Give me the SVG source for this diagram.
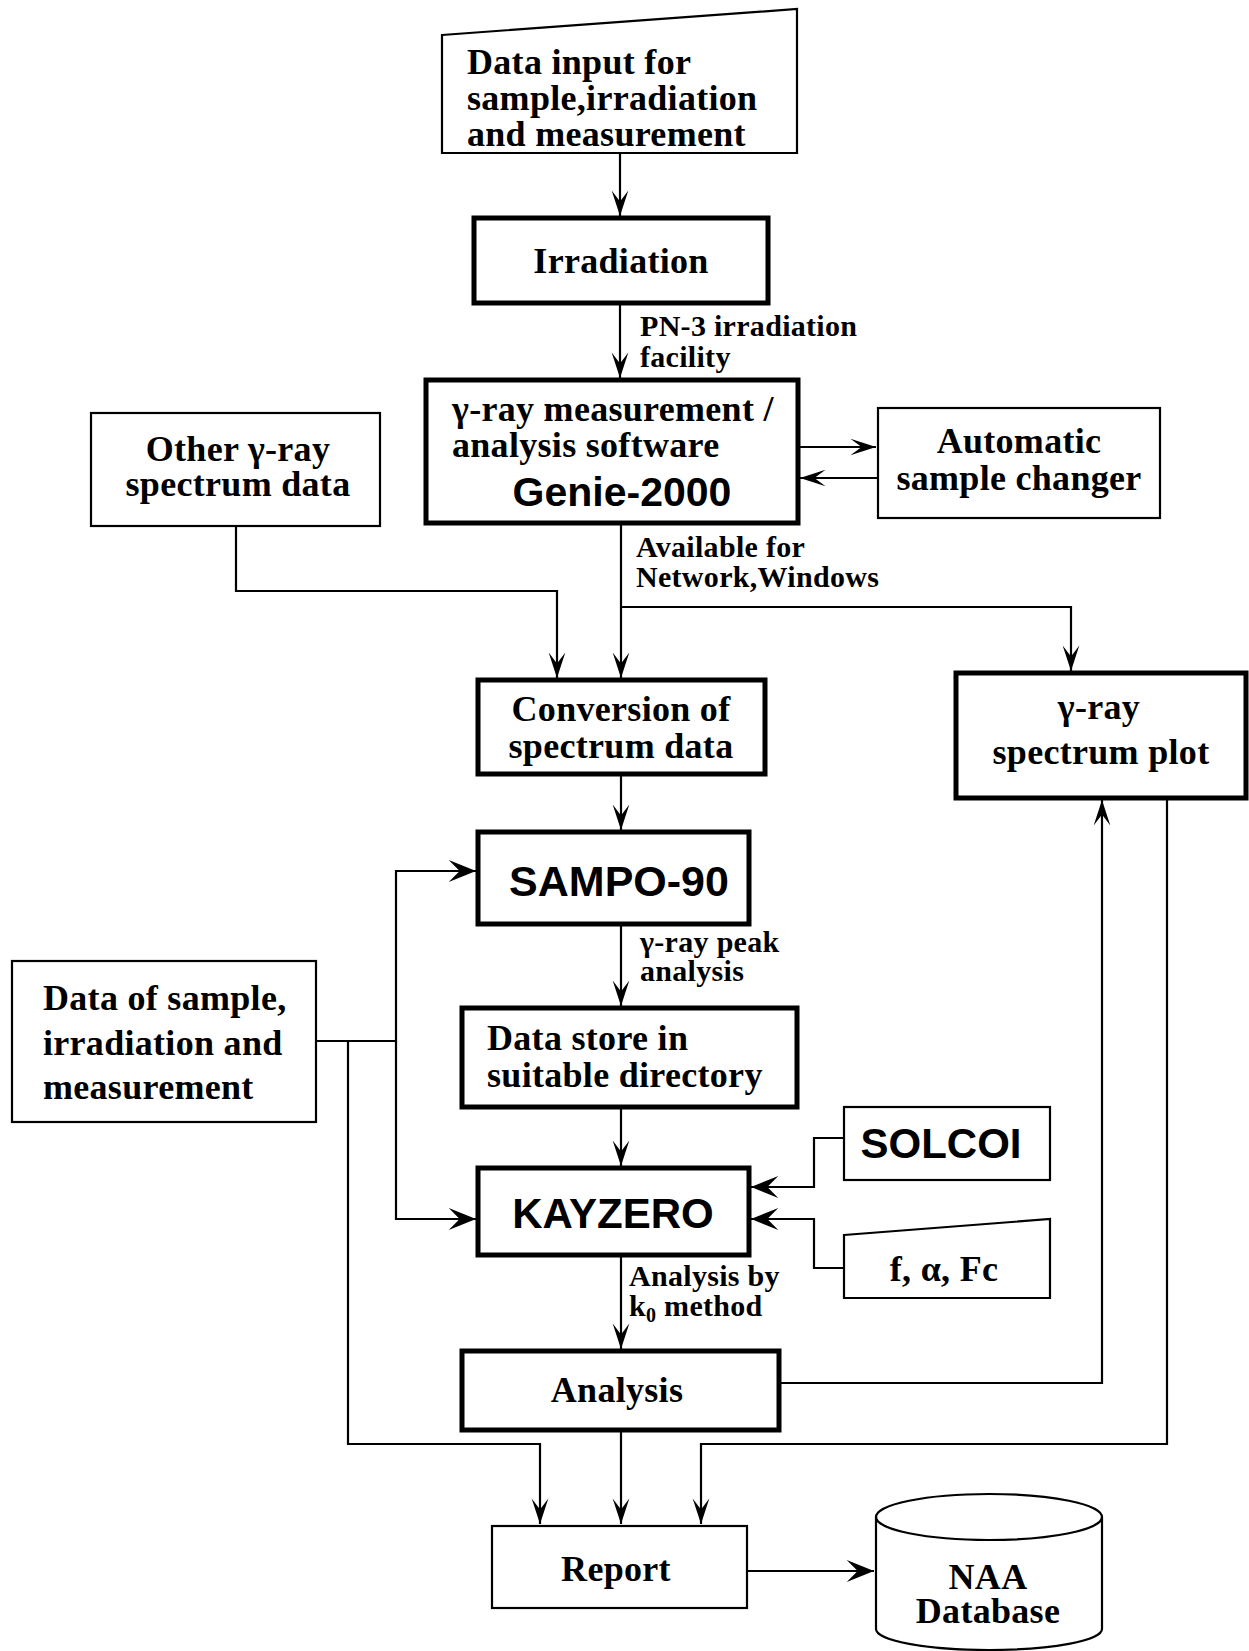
<svg xmlns="http://www.w3.org/2000/svg" width="1249" height="1651" viewBox="0 0 1249 1651">
<style>
.thin{fill:#fff;stroke:#000;stroke-width:2.2}
.thick{fill:#fff;stroke:#000;stroke-width:5}
.t{font-family:"Liberation Serif","Times New Roman",serif;font-weight:bold;font-size:36px;letter-spacing:0.3px;fill:#000}
.lbl{font-family:"Liberation Serif","Times New Roman",serif;font-weight:bold;font-size:30px;letter-spacing:0.3px;fill:#000}
.h{font-family:"Liberation Sans",Arial,sans-serif;font-weight:bold;font-size:42px;fill:#000}
.c{text-anchor:middle}
.cn{fill:none;stroke:#000;stroke-width:2.2}
</style>
<defs>
<marker id="ah" markerUnits="userSpaceOnUse" markerWidth="30" markerHeight="20" viewBox="-24 -9 26 18" refX="0" refY="0" orient="auto">
<path d="M0,0 L-23,-7.5 L-13,0 L-23,7.5 Z" fill="#000"/>
</marker>
<marker id="ahb" markerUnits="userSpaceOnUse" markerWidth="34" markerHeight="24" viewBox="-26 -11 28 22" refX="0" refY="0" orient="auto">
<path d="M0,0 L-25,-10 L-15,0 L-25,10 Z" fill="#000"/>
</marker>
</defs>

<g id="connectors">
<path class="cn" d="M620,153 V216" marker-end="url(#ah)"/>
<path class="cn" d="M620,303 V378" marker-end="url(#ah)"/>
<path class="cn" d="M798,447 H876" marker-end="url(#ah)"/>
<path class="cn" d="M878,478 H800" marker-end="url(#ah)"/>
<path class="cn" d="M236,526 V591 H557 V678" marker-end="url(#ah)"/>
<path class="cn" d="M621,523 V678" marker-end="url(#ah)"/>
<path class="cn" d="M621,607 H1071 V671" marker-end="url(#ah)"/>
<path class="cn" d="M621,774 V830" marker-end="url(#ah)"/>
<path class="cn" d="M621,924 V1006" marker-end="url(#ah)"/>
<path class="cn" d="M621,1107 V1166" marker-end="url(#ah)"/>
<path class="cn" d="M316,1041 H396 V871 H476" marker-end="url(#ahb)"/>
<path class="cn" d="M396,1041 V1219 H476" marker-end="url(#ahb)"/>
<path class="cn" d="M348,1041 V1444 H540 V1524" marker-end="url(#ah)"/>
<path class="cn" d="M844,1138 H814 V1187 H751" marker-end="url(#ahb)"/>
<path class="cn" d="M844,1268 H814 V1219 H751" marker-end="url(#ahb)"/>
<path class="cn" d="M621,1255 V1349" marker-end="url(#ah)"/>
<path class="cn" d="M779,1383 H1102 V800" marker-end="url(#ah)"/>
<path class="cn" d="M621,1430 V1524" marker-end="url(#ah)"/>
<path class="cn" d="M1167,798 V1444 H701 V1524" marker-end="url(#ah)"/>
<path class="cn" d="M747,1571 H874" marker-end="url(#ahb)"/>
</g>

<g id="data-input">
<polygon class="thin" points="442,35 797,9 797,153 442,153"/>
<text class="t" x="467" y="74">Data input for</text>
<text class="t" x="467" y="110">sample,irradiation</text>
<text class="t" x="467" y="146">and measurement</text>
</g>

<g id="irradiation">
<rect class="thick" x="474" y="218" width="294" height="85"/>
<text class="t c" x="621" y="273">Irradiation</text>
</g>
<g id="pn3-label">
<text class="lbl" x="640" y="336">PN-3 irradiation</text>
<text class="lbl" x="640" y="367">facility</text>
</g>

<g id="genie">
<rect class="thick" x="426" y="380" width="372" height="143"/>
<text class="t" x="452" y="421">γ-ray measurement /</text>
<text class="t" x="452" y="457">analysis software</text>
<text class="h c" x="622" y="506" style="font-size:41px">Genie-2000</text>
</g>

<g id="auto-changer">
<rect class="thin" x="878" y="408" width="282" height="110"/>
<text class="t c" x="1019" y="453">Automatic</text>
<text class="t c" x="1019" y="490">sample changer</text>
</g>

<g id="other-spectrum">
<rect class="thin" x="91" y="413" width="289" height="113"/>
<text class="t c" x="238" y="461">Other γ-ray</text>
<text class="t c" x="238" y="496">spectrum data</text>
</g>

<g id="avail-label">
<text class="lbl" x="636" y="557">Available for</text>
<text class="lbl" x="636" y="587">Network,Windows</text>
</g>

<g id="conversion">
<rect class="thick" x="478" y="680" width="287" height="94"/>
<text class="t c" x="621" y="721">Conversion of</text>
<text class="t c" x="621" y="758">spectrum data</text>
</g>

<g id="plot">
<rect class="thick" x="956" y="673" width="290" height="125"/>
<text class="t c" x="1099" y="719">γ-ray</text>
<text class="t c" x="1101" y="764">spectrum plot</text>
</g>

<g id="sampo">
<rect class="thick" x="478" y="832" width="271" height="92"/>
<text class="h c" x="619" y="896" style="font-size:43px">SAMPO-90</text>
</g>
<g id="peak-label">
<text class="lbl" x="640" y="952">γ-ray peak</text>
<text class="lbl" x="640" y="981">analysis</text>
</g>

<g id="data-store">
<rect class="thick" x="462" y="1008" width="335" height="99"/>
<text class="t" x="487" y="1050">Data store in</text>
<text class="t" x="487" y="1087">suitable directory</text>
</g>

<g id="data-sample">
<rect class="thin" x="12" y="961" width="304" height="161"/>
<text class="t" x="43" y="1010">Data of sample,</text>
<text class="t" x="43" y="1055">irradiation and</text>
<text class="t" x="43" y="1099">measurement</text>
</g>

<g id="kayzero">
<rect class="thick" x="478" y="1168" width="271" height="87"/>
<text class="h c" x="613" y="1228">KAYZERO</text>
</g>

<g id="solcoi">
<rect class="thin" x="844" y="1107" width="206" height="73"/>
<text class="h c" x="941" y="1158">SOLCOI</text>
</g>

<g id="f-alpha-fc">
<polygon class="thin" points="844,1235 1050,1219 1050,1298 844,1298"/>
<text class="t c" x="944" y="1281">f, α, Fc</text>
</g>

<g id="k0-label">
<text class="lbl" x="629" y="1286">Analysis by</text>
<text class="lbl" x="629" y="1316">k<tspan font-size="20" dy="6">0</tspan><tspan dy="-6"> method</tspan></text>
</g>

<g id="analysis">
<rect class="thick" x="462" y="1351" width="317" height="79"/>
<text class="t c" x="617" y="1402">Analysis</text>
</g>

<g id="report">
<rect class="thin" x="492" y="1526" width="255" height="82"/>
<text class="t c" x="616" y="1581">Report</text>
</g>

<g id="database">
<path class="thin" d="M876,1517 A113,23 0 0 1 1102,1517 V1629 A113,21 0 0 1 876,1629 Z"/>
<path class="cn" d="M876,1517 A113,23 0 0 0 1102,1517"/>
<text class="t c" x="988" y="1589">NAA</text>
<text class="t c" x="988" y="1623">Database</text>
</g>
</svg>
